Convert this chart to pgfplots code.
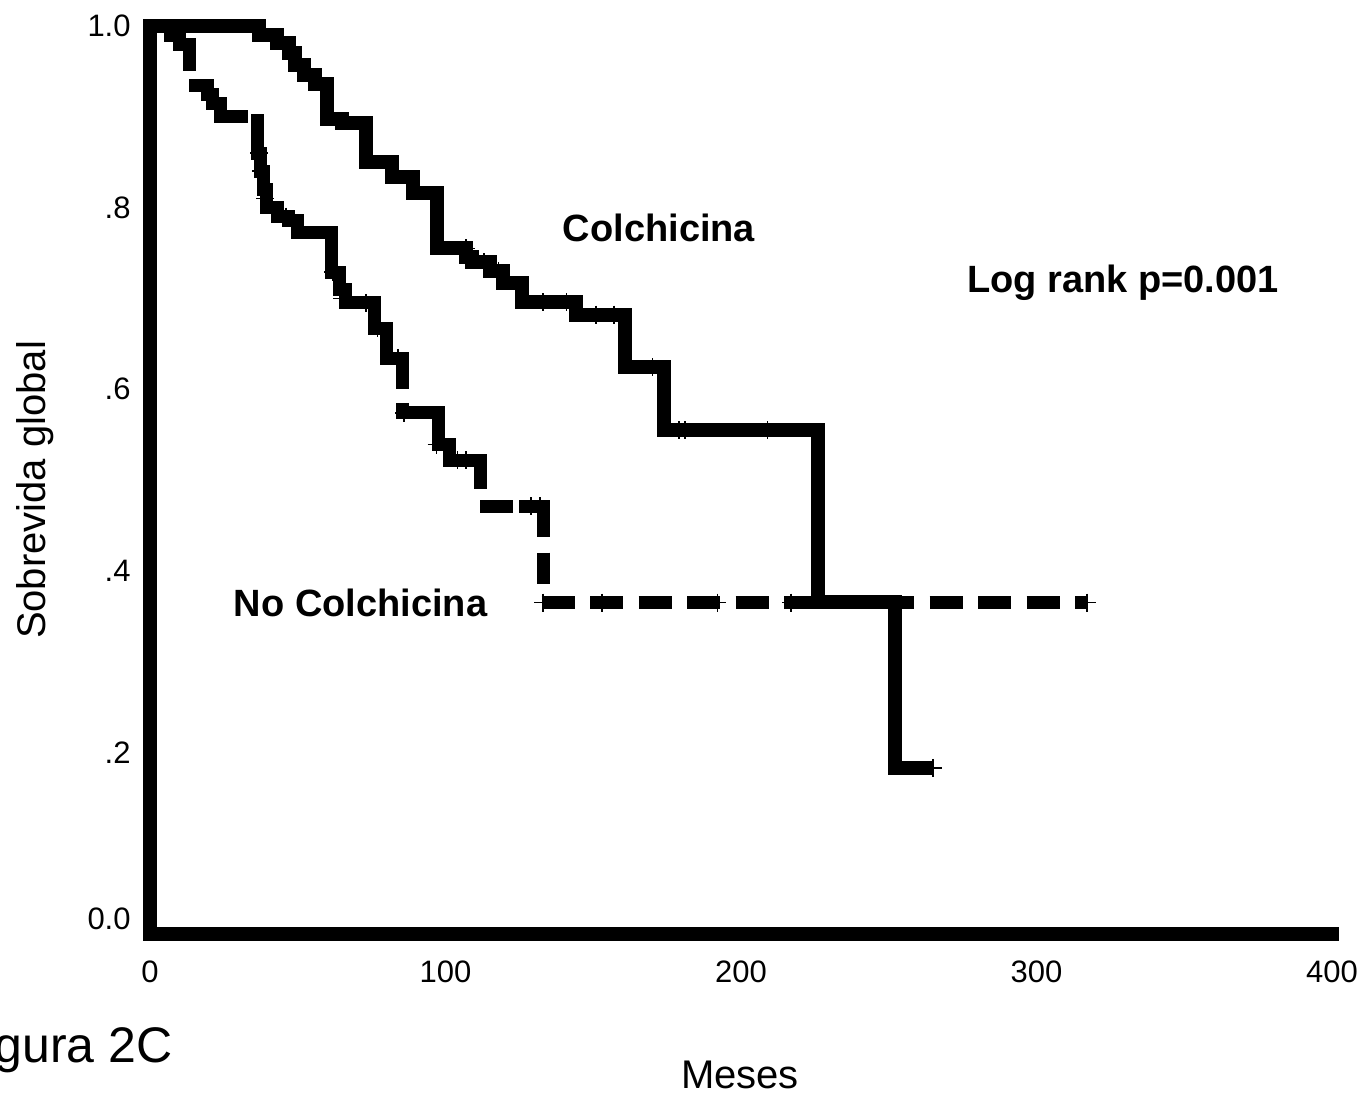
\documentclass[border=0pt]{standalone}
\usepackage{fontspec}
\setmainfont{Liberation Sans}
\usepackage{pgfplots}
\pgfplotsset{compat=1.18}
\begin{document}
\begin{tikzpicture}
\useasboundingbox (0,0) rectangle (683pt,547pt);
\begin{axis}[
  at={(75pt,80pt)}, anchor=south west,
  scale only axis, width=591pt, height=454pt,
  xmin=0, xmax=400, ymin=0, ymax=1,
  axis x line*=bottom, axis y line*=left,
  axis line style={line width=7pt, line cap=rect, -},
  every outer x axis line/.append style={-},
  every outer y axis line/.append style={-},
  xtick={0,100,200,300,400}, xticklabels={0,100,200,300,400},
  ytick={0.2,0.4,0.6,0.8,1}, yticklabels={.2,.4,.6,.8,1.0},
  extra y ticks={0}, extra y tick labels={0.0},
  extra y tick style={yticklabel style={yshift=7.5pt}},
  major tick length=0pt,
  tick label style={font=\fontsize{15.5}{18}\selectfont, inner sep=0pt},
  xticklabel style={yshift=-13pt},
  yticklabel style={xshift=-9.5pt},
  clip=false,
  nc/.style={line width=6.5pt, black, line join=miter, line cap=butt},
]
% Colchicina (solid)
\addplot[const plot, line width=7pt, black, line join=miter] coordinates {
(0,1.0) (37,0.99) (43,0.981) (47,0.97) (49,0.957) (52,0.946) (56,0.936)
(60,0.898) (65,0.893) (73,0.85) (82,0.834) (89,0.816) (97,0.755)
(107,0.746) (109,0.74) (115,0.73) (119.5,0.717) (126,0.696) (144,0.682)
(160.7,0.624) (174,0.555) (226,0.366) (252,0.183) (265,0.183)
};
% No Colchicina (dashed), drawn piece by piece as in the original
\addplot[nc] coordinates {(0,1) (7,1) (7,0.99) (10,0.99) (10,0.98) (13.2,0.98) (13.2,0.95)};
\addplot[nc] coordinates {(13.2,0.934) (19.3,0.934) (19.3,0.925) (21.3,0.925) (21.3,0.915) (23.7,0.915) (23.7,0.90) (33,0.90)};
\addplot[nc] coordinates {(36.5,0.903) (36.5,0.86) (37.5,0.86) (37.5,0.84) (38.5,0.84) (38.5,0.82) (39.5,0.82) (39.5,0.80) (43,0.80) (43,0.79) (47,0.79) (47,0.786) (50,0.786) (50,0.773) (61.5,0.773) (61.5,0.729) (64,0.729) (64,0.71) (66,0.71) (66,0.695) (76,0.695) (76,0.667) (80,0.667) (80,0.634) (85.3,0.634) (85.3,0.60)};
\addplot[nc] coordinates {(85.3,0.585) (85.3,0.574) (97.5,0.574) (97.5,0.539) (101.5,0.539) (101.5,0.522) (111.7,0.522) (111.7,0.49)};
\addplot[nc] coordinates {(111.7,0.471) (122.8,0.471)};
\addplot[nc] coordinates {(125,0.471) (133.3,0.471) (133.3,0.437)};
\addplot[nc] coordinates {(133.3,0.42) (133.3,0.386)};
\addplot[nc, dash pattern=on 16.5pt off 7.75pt] coordinates {(132.5,0.365) (317,0.365)};
% censored marks
\addplot[only marks, mark=+, mark size=4.5pt, black, mark options={line width=0.8pt}] coordinates {
(107,0.755) (113,0.74) (118,0.73) (133,0.696) (141,0.696) (151,0.682) (157,0.682)
(170,0.624) (179,0.555) (181,0.555) (209,0.555) (265,0.183)
(37,0.86) (37.5,0.84) (39,0.81) (42,0.795) (46,0.79) (49,0.78) (62,0.729)
(65,0.70) (73,0.695) (77,0.667) (84,0.634) (86,0.574) (97,0.539) (104,0.522)
(107,0.522) (129,0.471) (132,0.471) (133,0.365) (153,0.365) (192,0.365)
(217,0.365) (317,0.365)
};
\end{axis}
\node[anchor=base, inner sep=0pt, font=\bfseries\fontsize{19}{22}\selectfont] at (329.5pt,426pt) {Colchicina};
\node[anchor=base, inner sep=0pt, font=\bfseries\fontsize{19}{22}\selectfont] at (561.5pt,400.5pt) {Log rank p=0.001};
\node[anchor=base, inner sep=0pt, font=\bfseries\fontsize{19}{22}\selectfont] at (180.25pt,238.5pt) {No Colchicina};
\node[rotate=90, inner sep=0pt, font=\fontsize{20}{24}\selectfont] at (17.5pt,302pt) {Sobrevida global};
\node[inner sep=0pt, font=\fontsize{20}{24}\selectfont] at (370pt,9.5pt) {Meses};
\node[anchor=base east, inner sep=0pt, font=\fontsize{25}{30}\selectfont] at (86.5pt,16pt) {Figura 2C};
\end{tikzpicture}
\end{document}
